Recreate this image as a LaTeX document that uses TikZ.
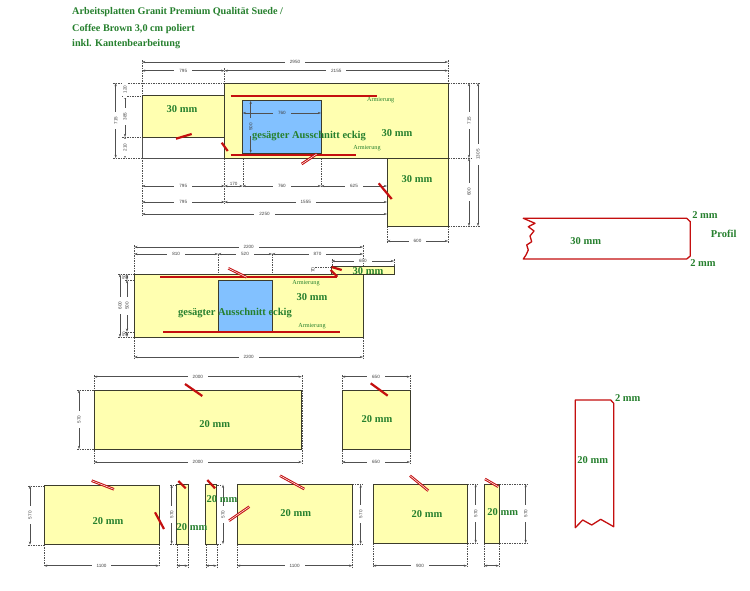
\documentclass[tikz,border=0pt]{standalone}
\usepackage{fontspec}
\setmainfont{Liberation Serif}
\setsansfont{Liberation Sans}
\usetikzlibrary{arrows.meta}
\definecolor{plate}{HTML}{FFFFB0}
\definecolor{sink}{HTML}{82C1FF}
\definecolor{rebar}{HTML}{C40F0F}
\definecolor{grn}{HTML}{26802E}
\definecolor{edgec}{HTML}{3C3C2C}
\definecolor{dimc}{HTML}{505050}
\tikzset{
  x=1pt,y=-1pt,
  slab/.style={draw=edgec,line width=0.95pt,fill=plate},
  cutout/.style={draw=edgec,line width=0.95pt,fill=sink},
  armline/.style={draw=rebar,line width=1.5pt},
  mark1/.style={draw=rebar,line width=2.2pt},
  prof/.style={draw=rebar,line width=1.3pt,line join=round},
  dimline/.style={draw=dimc,line width=0.5pt,{Stealth[length=3.2pt,width=2.2pt]}-{Stealth[length=3.2pt,width=2.2pt]}},
  ext/.style={draw=dimc,line width=0.4pt,dash pattern=on 1.5pt off 1pt},
  dimtxt/.style={font=\sffamily\fontsize{4.6}{5}\selectfont,text=black!75,fill=white,inner sep=0pt,inner xsep=5pt},
  dimtxb/.style={font=\sffamily\fontsize{4.6}{5}\selectfont,text=black!75,fill=sink,inner sep=0pt,inner xsep=5pt},
  dimtxn/.style={font=\sffamily\fontsize{4.6}{5}\selectfont,text=black!75,inner sep=0.5pt},
  mm/.style={font=\bfseries\fontsize{10.5}{12}\selectfont,text=grn,inner sep=0pt},
  armt/.style={font=\fontsize{6.2}{7}\selectfont,text=grn,inner sep=0pt},
  titlet/.style={font=\bfseries\fontsize{10.2}{12}\selectfont,text=grn,inner sep=0pt,anchor=west},
}
\newcommand{\hdimn}[4]{\draw[dimline] (#1,#3) -- node[dimtxt] {#4} (#2,#3);}
\newcommand{\hdims}[4]{\draw[dimline] (#1,#3) -- node[dimtxn,above=0.2pt] {#4} (#2,#3);}
\newcommand{\vdimn}[4]{\draw[dimline] (#1,#2) -- node[dimtxt,rotate=90] {#4} (#1,#3);}
\newcommand{\extl}[4]{\draw[ext] (#1,#2) -- (#3,#4);}
\newcommand{\brkm}[4]{\draw[mark1] (#1,#2) -- (#3,#4);}
\newcommand{\brkd}[4]{\draw[mark1,line width=2.6pt] (#1,#2) -- (#3,#4);\draw[white,line width=0.5pt] (#1,#2) -- (#3,#4);}
\begin{document}
\begin{tikzpicture}
\useasboundingbox[fill=white] (0,0) rectangle (750,590);

% title
\node[titlet] (t1) at (72,12) {Arbeitsplatten Granit Premium Qualität Suede /};
\node[titlet] (t2) at (72,29) {Coffee Brown 3,0 cm poliert};
\node[titlet] (t3) at (72,44) {inkl. Kantenbearbeitung};

% ---------- plate group 1
\extl{142}{60}{142}{216}
\extl{224.5}{68}{224.5}{204}
\extl{448}{60}{448}{83}
\extl{113}{83}{224.5}{83}
\extl{113}{158}{142}{158}
\extl{122}{95.7}{142}{95.7}
\extl{122}{137}{142}{137}
\extl{448}{83}{480}{83}
\extl{448}{158}{472}{158}
\extl{448}{226}{480}{226}
\extl{242.7}{153}{242.7}{188}
\extl{321}{153}{321}{188}
\extl{387}{226}{387}{243}
\extl{448}{226}{448}{243}
\draw[dimc,line width=0.7pt] (142,137) -- (142,158) -- (224.5,158);
\draw[slab] (142,95.7) rectangle (224.5,137);
\draw[slab] (224.5,83) -- (448,83) -- (448,226) -- (387,226) -- (387,158) -- (224.5,158) -- cycle;
\draw[edgec,line width=0.7pt] (387,158) -- (448,158);
\draw[cutout] (242.7,100.7) rectangle (321,153);
\draw[armline] (230.7,96) -- (376.7,96);
\draw[armline] (230.7,155) -- (356,155);
\hdimn{142}{448}{62}{2950}
\hdimn{142}{224.5}{70.7}{795}
\hdimn{224.5}{448}{70.7}{2155}
\hdimn{142}{224.5}{186}{795}
\hdims{224.5}{242.7}{186}{170}
\hdimn{242.7}{321}{186}{760}
\hdimn{321}{387}{186}{625}
\hdimn{142}{224.5}{202}{795}
\hdimn{224.5}{387}{202}{1555}
\hdimn{142}{387}{214}{2250}
\hdimn{387}{448}{241}{600}
\draw[dimline] (242.7,113) -- node[dimtxb] {760} (321,113);
\draw[dimline] (250.7,100.7) -- node[dimtxb,rotate=90] {500} (250.7,153);
\vdimn{115.7}{83}{158}{715}
\vdimn{125}{95.7}{137}{385}
\vdimn{125}{137}{158}{210}
\vdimn{125}{83}{95.7}{120}
\vdimn{469}{83}{158}{715}
\vdimn{469}{158}{226}{600}
\vdimn{478}{83}{226}{1305}
\node[mm] (a1) at (182,109) {30 mm};
\node[mm] (a2) at (397,133) {30 mm};
\node[mm] (a3) at (417,179) {30 mm};
\node[mm] (a4) at (309,136) {gesägter Ausschnitt eckig};
\node[armt] (a5) at (380.7,100) {Armierung};
\node[armt] (a6) at (367,148) {Armierung};
\brkm{176}{138.7}{191.7}{134}
\brkm{221.7}{142.7}{227.7}{151}
\brkd{301.7}{164}{316.7}{154}
\brkm{378.7}{183.3}{391.7}{199}

% ---------- plate group 2
\extl{134.3}{245}{134.3}{359}
\extl{363}{245}{363}{359}
\extl{218}{254}{218}{280}
\extl{272}{254}{272}{280}
\extl{331.7}{259}{331.7}{267}
\extl{394}{259}{394}{267}
\extl{118}{274}{134.3}{274}
\extl{118}{337}{134.3}{337}
\extl{125}{280}{134.3}{280}
\extl{125}{331.7}{134.3}{331.7}
\extl{315}{266.7}{331.7}{266.7}
\extl{315}{274}{331.7}{274}
\draw[slab] (331.7,266.7) rectangle (394,274);
\draw[slab] (134.3,274) rectangle (363,337);
\draw[cutout] (218,280) rectangle (272,331.7);
\draw[armline] (160,277) -- (337,277);
\draw[armline] (163,332) -- (340,332);
\hdimn{134.3}{363}{247}{2200}
\hdimn{134.3}{218}{254}{810}
\hdimn{218}{272}{254}{520}
\hdimn{272}{363}{254}{870}
\hdimn{331.7}{394}{261}{650}
\hdimn{134.3}{363}{357}{2200}
\vdimn{120}{274}{337}{600}
\vdimn{127}{280}{331.7}{500}
\draw[dimline] (127,274) -- (127,280);
\draw[dimline] (127,331.7) -- (127,337);
\node[dimtxn,rotate=90] (b0) at (124,277) {50};
\node[dimtxn,rotate=90] (b00) at (124,334) {50};
\node[dimtxn,rotate=90,font=\sffamily\fontsize{5}{5}\selectfont] (b01) at (313,270) {70};
\node[mm] (b1) at (312,297) {30 mm};
\node[mm] (b2) at (235,313) {gesägter Ausschnitt eckig};
\node[mm] (b3) at (368,271) {30 mm};
\node[armt] (b4) at (306,282.7) {Armierung};
\node[armt] (b5) at (312,326) {Armierung};
\brkd{228.3}{268.3}{246.7}{277.3}
\brkm{331.7}{267}{341.7}{270}
\brkm{330.7}{270}{337.3}{276.7}

% ---------- row 3
\extl{94}{375}{94}{464}
\extl{301.7}{375}{301.7}{464}
\extl{342}{375}{342}{464}
\extl{410}{375}{410}{464}
\extl{77}{390}{94}{390}
\extl{77}{449}{94}{449}
\draw[slab] (94,390) rectangle (301.7,449);
\draw[slab] (342,390) rectangle (410,449);
\hdimn{94}{301.7}{376.7}{2000}
\hdimn{94}{301.7}{462}{2000}
\hdimn{342}{410}{376.7}{650}
\hdimn{342}{410}{462}{650}
\vdimn{79}{390}{449}{570}
\node[mm] (c1) at (214.7,424) {20 mm};
\node[mm] (c2) at (377,419) {20 mm};
\brkm{185}{384}{202.3}{396}
\brkm{370.7}{383.3}{387.7}{395.7}

% ---------- row 4
\extl{28}{485.7}{44}{485.7}
\extl{28}{544.7}{44}{544.7}
\extl{170}{484.7}{176.7}{484.7}
\extl{170}{544}{176.7}{544}
\extl{221}{484.7}{205.7}{484.7}
\extl{221}{544}{205.7}{544}
\extl{352.3}{484.5}{363}{484.5}
\extl{352.3}{544}{363}{544}
\extl{467}{484}{478}{484}
\extl{467}{543}{478}{543}
\extl{499}{484}{528}{484}
\extl{499}{543}{528}{543}
\foreach \xx/\yy in {44/544.7,159/544.7,176.7/544,188/544,205.7/544,216.7/544,237/544,352.3/544,373/543,467/543,484/543,499/543}{
  \draw[ext] (\xx,\yy) -- (\xx,567);
}
\draw[slab] (44,485.7) rectangle (159,544.7);
\draw[slab] (176.7,484.7) rectangle (188,544);
\draw[slab] (205.7,484.7) rectangle (216.7,544);
\draw[slab] (237,484.5) rectangle (352.3,544);
\draw[slab] (373,484) rectangle (467,543);
\draw[slab] (484,484) rectangle (499,543);
\hdimn{44}{159}{565.7}{1100}
\hdims{176.7}{188}{565.7}{}
\hdims{205.7}{216.7}{565.7}{}
\hdimn{237}{352.3}{565.7}{1100}
\hdimn{373}{467}{565.7}{900}
\hdims{484}{499}{565.7}{}
\vdimn{30}{485.7}{544.7}{570}
\vdimn{171.7}{484.7}{544}{570}
\vdimn{223}{484.7}{544}{570}
\vdimn{360.7}{484.5}{544}{570}
\vdimn{475.7}{484}{543}{570}
\vdimn{525.7}{484}{543}{570}
\node[mm] (d1) at (108,521) {20 mm};
\node[mm] (d2) at (192,527) {20 mm};
\node[mm] (d3) at (222,499) {20 mm};
\node[mm] (d4) at (295.7,513) {20 mm};
\node[mm] (d5) at (427,514) {20 mm};
\node[mm] (d6) at (502.7,511.7) {20 mm};
\brkd{91.7}{480.7}{114}{489.3}
\brkm{155}{512.3}{164}{529}
\brkm{178.3}{481}{185.7}{488.3}
\brkm{207.3}{480}{215}{488.3}
\brkd{229}{520.7}{249.3}{506.7}
\brkd{280}{475.7}{304.3}{489}
\brkd{410}{475.7}{428.3}{490.7}
\brkd{485}{479}{498.3}{486.7}

% ---------- edge profiles
\draw[prof] (523.3,218.3) -- (686.7,218.3) -- (690.3,221.7) -- (690.3,256) -- (686.7,259) -- (523.3,259)
  -- (526,255) -- (528.3,250) -- (526.7,245) -- (531.7,241.7) -- (530,236) -- (534,231) -- (528.3,226.7) -- (535,223.3) -- cycle;
\node[mm] (e1) at (585.7,241) {30 mm};
\node[mm] (e2) at (705,214.7) {2 mm};
\node[mm] (e3) at (703,263) {2 mm};
\node[mm] (e4) at (723.7,234) {Profil};
\draw[prof] (575.3,527.7) -- (575.3,400) -- (610.7,400) -- (613.7,403.3) -- (613.7,526.7) -- (600.7,519.3) -- (591.7,525) -- (582.7,520) -- cycle;
\node[mm] (f1) at (592.7,460) {20 mm};
\node[mm] (f2) at (627.7,398) {2 mm};
\end{tikzpicture}
\end{document}
